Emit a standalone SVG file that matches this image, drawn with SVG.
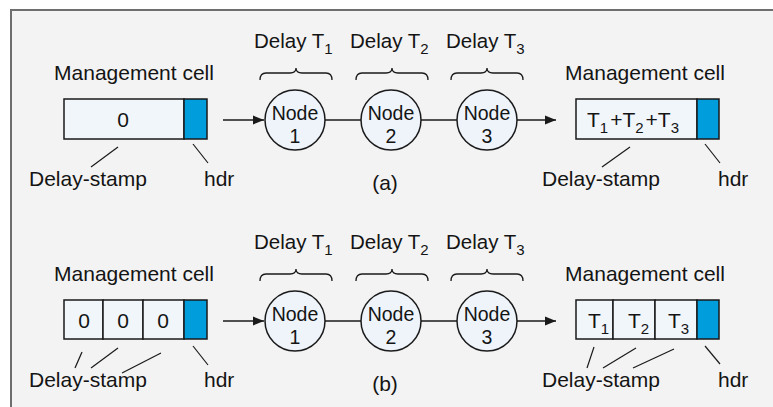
<svg xmlns="http://www.w3.org/2000/svg" width="773" height="407" viewBox="0 0 773 407">
  <style>
    text { font-family: "Liberation Sans", Arial, sans-serif; font-size: 21px; fill: #141414; }
    .c { text-anchor: middle; }
    .d { font-size: 20.5px; }
    .n { font-size: 19.5px; text-anchor: middle; }
    .sub { font-size: 15px; }
    .cell { fill: #f1f6fb; stroke: #1a1a1a; stroke-width: 1.5; }
    .hdr { fill: #009ddc; stroke: #1a1a1a; stroke-width: 1.5; }
    .node { fill: #eef4fa; stroke: #1a1a1a; stroke-width: 1.5; }
    .ln { stroke: #1a1a1a; stroke-width: 1.5; fill: none; }
    .lead { stroke: #1a1a1a; stroke-width: 1.2; fill: none; }
    .brace { stroke: #1a1a1a; stroke-width: 1.3; fill: none; }
  </style>
  <defs>
    <marker id="arrow" viewBox="0 0 10 10" refX="10" refY="5" markerWidth="11" markerHeight="11" markerUnits="userSpaceOnUse" orient="auto">
      <path d="M0,1 L10,5 L0,9 Z" fill="#1a1a1a"/>
    </marker>
    <path id="brace" d="M0,12 Q0,5 6,5 L30,5 Q36,5 36,0 Q36,5 42,5 L66,5 Q72,5 72,12"/>
  </defs>

  <!-- panel background with frame -->
  <rect x="10" y="9" width="763" height="398" fill="#f3f3f3"/>
  <path d="M11,407 L11,10 L773,10" stroke="#6e6e6e" stroke-width="2" fill="none"/>

  <!-- ===== (a) single delay-stamp ===== -->
  <g id="a-source-cell">
    <text class="c" x="134" y="80">Management cell</text>
    <rect class="cell" x="64" y="99" width="120" height="40"/>
    <rect class="hdr" x="184" y="99" width="23" height="40"/>
    <text class="c" x="123" y="127">0</text>
    <line class="lead" x1="118" y1="147" x2="91" y2="167"/>
    <line class="lead" x1="193" y1="144" x2="208" y2="163"/>
    <text x="29" y="186">Delay-stamp</text>
    <text x="204" y="186">hdr</text>
  </g>

  <g id="a-delays">
    <text class="d" x="254" y="48">Delay T<tspan class="sub" dy="6">1</tspan></text>
    <text class="d" x="350" y="48">Delay T<tspan class="sub" dy="6">2</tspan></text>
    <text class="d" x="446" y="48">Delay T<tspan class="sub" dy="6">3</tspan></text>
    <use href="#brace" class="brace" x="260" y="68"/>
    <use href="#brace" class="brace" x="356" y="68"/>
    <use href="#brace" class="brace" x="451" y="68"/>
  </g>

  <g id="a-connectors">
    <line class="ln" x1="223" y1="120" x2="264" y2="120" marker-end="url(#arrow)"/>
    <line class="ln" x1="325" y1="120" x2="361" y2="120"/>
    <line class="ln" x1="421" y1="120" x2="457" y2="120"/>
    <line class="ln" x1="517" y1="120" x2="556" y2="120" marker-end="url(#arrow)"/>
  </g>

  <g id="a-node1">
    <circle class="node" cx="295" cy="120" r="30"/>
    <text class="n" x="295" y="120">Node</text>
    <text class="n" x="295" y="143">1</text>
  </g>
  <g id="a-node2">
    <circle class="node" cx="391" cy="120" r="30"/>
    <text class="n" x="391" y="120">Node</text>
    <text class="n" x="391" y="143">2</text>
  </g>
  <g id="a-node3">
    <circle class="node" cx="487" cy="120" r="30"/>
    <text class="n" x="487" y="120">Node</text>
    <text class="n" x="487" y="143">3</text>
  </g>
  <text class="c" x="385" y="190">(a)</text>

  <g id="a-dest-cell">
    <text class="c" x="645" y="80">Management cell</text>
    <rect class="cell" x="576" y="99" width="121" height="40"/>
    <rect class="hdr" x="697" y="99" width="22" height="40"/>
    <text x="587" y="127">T<tspan class="sub" dy="6">1</tspan><tspan dx="2" dy="-6">+T</tspan><tspan class="sub" dy="6">2</tspan><tspan dx="2" dy="-6">+T</tspan><tspan class="sub" dy="6">3</tspan></text>
    <line class="lead" x1="630" y1="147" x2="602" y2="167"/>
    <line class="lead" x1="705" y1="144" x2="720" y2="163"/>
    <text x="542" y="186">Delay-stamp</text>
    <text x="718" y="186">hdr</text>
  </g>

  <!-- ===== (b) per-node delay-stamps ===== -->
  <g id="b-source-cell">
    <text class="c" x="134" y="281">Management cell</text>
    <rect class="cell" x="64" y="300" width="39" height="39"/>
    <rect class="cell" x="103" y="300" width="40" height="39"/>
    <rect class="cell" x="143" y="300" width="41" height="39"/>
    <rect class="hdr" x="184" y="300" width="23" height="39"/>
    <text class="c" x="84" y="328">0</text>
    <text class="c" x="123" y="328">0</text>
    <text class="c" x="163" y="328">0</text>
    <line class="lead" x1="82" y1="352" x2="75" y2="368"/>
    <line class="lead" x1="118" y1="348" x2="91" y2="368"/>
    <line class="lead" x1="161" y1="353" x2="122" y2="373"/>
    <line class="lead" x1="193" y1="346" x2="208" y2="365"/>
    <text x="29" y="387">Delay-stamp</text>
    <text x="204" y="387">hdr</text>
  </g>

  <g id="b-delays">
    <text class="d" x="254" y="249">Delay T<tspan class="sub" dy="6">1</tspan></text>
    <text class="d" x="350" y="249">Delay T<tspan class="sub" dy="6">2</tspan></text>
    <text class="d" x="446" y="249">Delay T<tspan class="sub" dy="6">3</tspan></text>
    <use href="#brace" class="brace" x="260" y="269"/>
    <use href="#brace" class="brace" x="356" y="269"/>
    <use href="#brace" class="brace" x="451" y="269"/>
  </g>

  <g id="b-connectors">
    <line class="ln" x1="223" y1="321" x2="264" y2="321" marker-end="url(#arrow)"/>
    <line class="ln" x1="325" y1="321" x2="361" y2="321"/>
    <line class="ln" x1="421" y1="321" x2="457" y2="321"/>
    <line class="ln" x1="517" y1="321" x2="556" y2="321" marker-end="url(#arrow)"/>
  </g>

  <g id="b-node1">
    <circle class="node" cx="295" cy="321" r="30"/>
    <text class="n" x="295" y="321">Node</text>
    <text class="n" x="295" y="344">1</text>
  </g>
  <g id="b-node2">
    <circle class="node" cx="391" cy="321" r="30"/>
    <text class="n" x="391" y="321">Node</text>
    <text class="n" x="391" y="344">2</text>
  </g>
  <g id="b-node3">
    <circle class="node" cx="487" cy="321" r="30"/>
    <text class="n" x="487" y="321">Node</text>
    <text class="n" x="487" y="344">3</text>
  </g>
  <text class="c" x="385" y="391">(b)</text>

  <g id="b-dest-cell">
    <text class="c" x="645" y="281">Management cell</text>
    <rect class="cell" x="576" y="300" width="37" height="39"/>
    <rect class="cell" x="613" y="300" width="42" height="39"/>
    <rect class="cell" x="655" y="300" width="42" height="39"/>
    <rect class="hdr" x="697" y="300" width="22" height="39"/>
    <text x="588" y="328">T<tspan class="sub" dy="6">1</tspan></text>
    <text x="628" y="328">T<tspan class="sub" dy="6">2</tspan></text>
    <text x="668" y="328">T<tspan class="sub" dy="6">3</tspan></text>
    <line class="lead" x1="594" y1="347" x2="587" y2="368"/>
    <line class="lead" x1="636" y1="348" x2="603" y2="368"/>
    <line class="lead" x1="674" y1="349" x2="633" y2="368"/>
    <line class="lead" x1="705" y1="346" x2="720" y2="364"/>
    <text x="542" y="387">Delay-stamp</text>
    <text x="718" y="387">hdr</text>
  </g>
</svg>
